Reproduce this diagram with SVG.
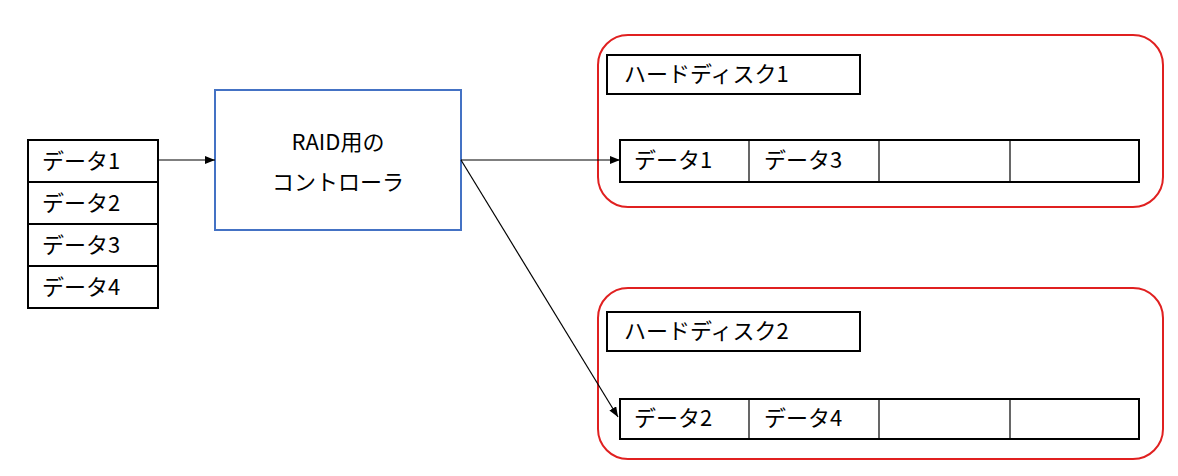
<svg xmlns="http://www.w3.org/2000/svg" width="1178" height="476" viewBox="0 0 1178 476">
<style>
.b{fill:#fff;stroke:#000;stroke-width:2}
.r{fill:none;stroke:#e02020;stroke-width:2}
.t{font-family:"Noto Sans CJK JP","Liberation Sans",sans-serif;font-size:22px;fill:#000}
.c{stroke:#000;stroke-width:1.2;fill:none}
</style>
<defs><marker id="a" markerWidth="10" markerHeight="8" refX="10" refY="4" orient="auto" markerUnits="userSpaceOnUse"><path d="M0,0L10,4L0,8z" fill="#000"/></marker></defs>
<rect width="1178" height="476" fill="#fff"/>
<g id="data">
<rect class="b" x="28" y="140" width="130" height="42"/><text class="t" x="42" y="169">データ1</text>
<rect class="b" x="28" y="182" width="130" height="42"/><text class="t" x="42" y="211">データ2</text>
<rect class="b" x="28" y="224" width="130" height="42"/><text class="t" x="42" y="253">データ3</text>
<rect class="b" x="28" y="266" width="130" height="42"/><text class="t" x="42" y="295">データ4</text>
</g>
<g id="controller">
<rect x="215" y="90" width="246" height="140" fill="#fff" stroke="#4472c4" stroke-width="2"/>
<text class="t" x="338" y="150" text-anchor="middle" font-size="24">RAID用の</text>
<text class="t" x="338" y="190" text-anchor="middle" font-size="24">コントローラ</text>
</g>
<g id="hdd1">
<rect class="r" x="598" y="35" width="565" height="172" rx="30"/>
<rect class="b" x="607" y="55" width="253" height="39"/><text class="t" x="624" y="82">ハードディスク1</text>
<rect class="b" x="620" y="140" width="519" height="42"/>
<line class="c" x1="749" y1="140" x2="749" y2="182" stroke-width="2"/><line class="c" x1="879" y1="140" x2="879" y2="182" stroke-width="2"/><line class="c" x1="1010" y1="140" x2="1010" y2="182" stroke-width="2"/>
<text class="t" x="634" y="168">データ1</text><text class="t" x="764" y="168">データ3</text>
</g>
<g id="hdd2">
<rect class="r" x="598" y="288" width="565" height="171" rx="30"/>
<rect class="b" x="607" y="312" width="253" height="39"/><text class="t" x="624" y="339">ハードディスク2</text>
<rect class="b" x="620" y="399" width="519" height="40"/>
<line class="c" x1="749" y1="399" x2="749" y2="439" stroke-width="2"/><line class="c" x1="879" y1="399" x2="879" y2="439" stroke-width="2"/><line class="c" x1="1010" y1="399" x2="1010" y2="439" stroke-width="2"/>
<text class="t" x="634" y="426">データ2</text><text class="t" x="764" y="426">データ4</text>
</g>
<g id="connectors">
<line class="c" x1="158" y1="160" x2="215" y2="160" marker-end="url(#a)"/>
<line class="c" x1="461" y1="160" x2="620" y2="160" marker-end="url(#a)"/>
<line class="c" x1="461" y1="160" x2="618" y2="417" marker-end="url(#a)"/>
</g>
</svg>
